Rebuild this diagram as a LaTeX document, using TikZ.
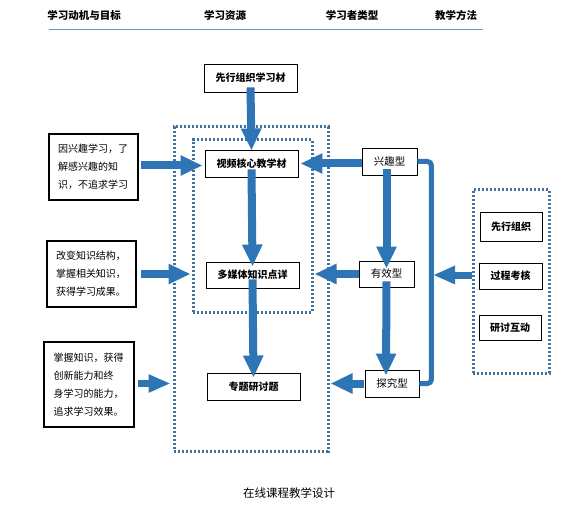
\documentclass[tikz,border=0pt]{standalone}
\usepackage{fontspec}
\setmainfont{Noto Sans CJK SC}
\usetikzlibrary{arrows.meta,calc}
\definecolor{abl}{RGB}{46,117,182}
\definecolor{dotc}{RGB}{65,113,156}
\definecolor{hline}{RGB}{91,155,213}
\begin{document}
\begin{tikzpicture}[x=1pt,y=-1pt,
  hdr/.style={font=\fontsize{10.5}{12}\selectfont\bfseries},
  motbox/.style={draw=black, line width=2pt, inner sep=0pt, align=left,
    font=\fontsize{10}{18}\selectfont},
  resbox/.style={draw=black, line width=0.9pt, inner sep=0pt, minimum width=93pt,
    font=\fontsize{10}{12}\selectfont\bfseries},
  typbox/.style={draw=black, line width=0.9pt, inner sep=0pt, minimum width=55pt, minimum height=27pt,
    font=\fontsize{10.5}{12}\selectfont},
  metbox/.style={draw=black, line width=0.9pt, inner sep=0pt, minimum width=62pt,
    font=\fontsize{10}{12}\selectfont\bfseries},
  dotbox/.style={draw=dotc, line width=3pt, dash pattern=on 2.2pt off 1.8pt, inner sep=0pt},
  barrow/.style={draw=abl, line width=8pt, -{Triangle[length=22pt,width=19pt]}},
  sarrow/.style={draw=abl, line width=6.5pt, -{Triangle[length=22pt,width=17pt]}},
  bracket/.style={draw=abl, line width=5pt, rounded corners=4pt}
]
\useasboundingbox (0,0) rectangle (581,513);

% headers
\node[hdr] (h1) at (84,15) {学习动机与目标};
\node[hdr] (h2) at (225,15) {学习资源};
\node[hdr] (h3) at (352,15) {学习者类型};
\node[hdr] (h4) at (456,15) {教学方法};
\draw[hline, line width=1pt] (49,30) -- (483,30);

% dotted containers
\node[dotbox, minimum width=154pt, minimum height=324pt] (res) at (251,289) {};
\node[dotbox, minimum width=119pt, minimum height=172pt] (core) at (252.5,226) {};
\node[dotbox, minimum width=76pt, minimum height=183pt] (meth) at (511,281.5) {};

% motivation boxes
\node[motbox, minimum width=89pt, minimum height=66pt, text width=71pt] (m1) at (93.5,167)
  {因兴趣学习，了\\解感兴趣的知\\识，不追求学习};
\node[motbox, minimum width=89pt, minimum height=66pt, text width=71pt] (m2) at (91.5,274)
  {改变知识结构，\\掌握相关知识，\\获得学习成果。};
\node[motbox, minimum width=90pt, minimum height=85pt, text width=71pt] (m3) at (89,384.5)
  {掌握知识，获得\\创新能力和终\\身学习的能力，\\追求学习效果。};

% resources
\node[resbox, minimum height=28pt] (r1) at (250.5,78) {先行组织学习材};
\node[resbox, minimum height=27pt] (r2) at (251.5,163.5) {视频核心教学材};
\node[resbox, minimum height=26pt] (r3) at (252.5,275) {多媒体知识点详};
\node[resbox, minimum height=27pt] (r4) at (253.5,386.5) {专题研讨题};

% learner types
\node[typbox] (t1) at (389.5,161.5) {兴趣型};
\node[typbox, minimum height=26pt] (t2) at (386.5,274) {有效型};
\node[typbox, minimum width=54pt] (t3) at (392,383.5) {探究型};

% methods
\node[metbox, minimum height=29pt] (e1) at (511,226.5) {先行组织};
\node[metbox, minimum width=63pt, minimum height=26pt] (e2) at (510.5,276) {过程考核};
\node[metbox, minimum height=25pt] (e3) at (510,327.5) {研讨互动};

% arrows: motivation -> resources
\draw[barrow] ([xshift=2pt,yshift=-2pt]m1.east |- r2.west) -- ([xshift=-2pt,yshift=-2pt]r2.west);
\draw[barrow] ([xshift=4pt]m2.east) -- ([xshift=-1pt]core.west |- m2.east);
\draw[sarrow] ([xshift=3pt]m3.east |- t3.west) -- ([xshift=-2pt]res.west |- t3.west);

% arrows: resources vertical
\draw[barrow] ([yshift=5pt]r1.south) -- ([yshift=-1pt]r2.north);
\draw[barrow] ([yshift=8pt]r2.south) -- ([yshift=-5pt]r3.north);
\draw[barrow] ([yshift=9pt]r3.south) -- ([yshift=-5pt]r4.north);

% arrows: learner types -> resources
\draw[barrow] (t1.west |- r2.east) -- ([xshift=2pt]r2.east);
\draw[barrow] (t2.west) -- ([xshift=1pt]core.east |- t2.west);
\draw[barrow] ([xshift=-1pt]t3.west) -- ([xshift=1pt]res.east |- t3.west);

% arrows: learner types vertical
\draw[barrow] ([yshift=6pt]t2.north |- t1.south) -- ([yshift=-8pt]t2.north);
\draw[barrow] ([yshift=6pt]t2.south) -- ([yshift=-6pt,xshift=-6pt]t3.north);

% bracket and method arrow
\draw[bracket] (t1.east) -- ++(14,0) |- (t3.east);
\coordinate (bk) at (433,275);
\draw[barrow, line width=7pt, -{Triangle[length=22pt,width=17pt]}] (meth.west |- bk) -- (bk);

% caption
\node[font=\fontsize{11.5}{13}\selectfont] (cap) at (289,493) {在线课程教学设计};
\end{tikzpicture}
\end{document}
